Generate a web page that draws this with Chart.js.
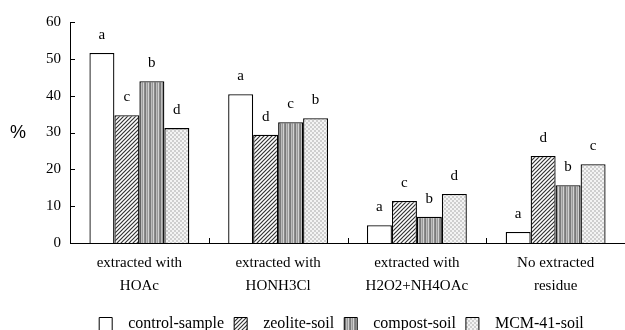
<!DOCTYPE html>
<html>
<head>
<meta charset="utf-8">
<script src="https://cdn.jsdelivr.net/npm/chart.js@4.4.1/dist/chart.umd.min.js"></script>
<style>
  body { margin: 0; background: #fff; }
  #wrap { width: 625px; height: 330px; }
</style>
</head>
<body>
<div id="wrap"><canvas id="myChart"></canvas></div>
<script>
var categories = [["extracted with", "HOAc"], ["extracted with", "HONH3Cl"], ["extracted with", "H2O2+NH4OAc"], ["No extracted", "residue"]];
var seriesNames = ["control-sample", "zeolite-soil", "compost-soil", "MCM-41-soil"];
var control = [51.6, 40.4, 4.8, 3.0];
var zeolite = [34.7, 29.4, 11.4, 23.6];
var compost = [43.9, 32.8, 7.1, 15.7];
var mcm = [31.2, 33.9, 13.3, 21.4];
var letters = [["a", "a", "a", "a"], ["c", "d", "c", "d"], ["b", "c", "b", "b"], ["d", "b", "d", "c"]];
var yTicks = [0, 10, 20, 30, 40, 50, 60];

var serif = "'Liberation Serif', 'Times New Roman', serif";

function makePattern(w, h, draw) {
  var c = document.createElement("canvas");
  c.width = w; c.height = h;
  var g = c.getContext("2d");
  draw(g);
  return document.getElementById("myChart").getContext("2d").createPattern(c, "repeat");
}

// diagonal hatch for zeolite-soil
var hatch = makePattern(4, 4, function(g) {
  g.fillStyle = "#fff"; g.fillRect(0, 0, 4, 4);
  g.strokeStyle = "#333"; g.lineWidth = 1.2;
  g.beginPath();
  g.moveTo(-1, 5); g.lineTo(5, -1);
  g.moveTo(-1, 1); g.lineTo(1, -1);
  g.moveTo(3, 5); g.lineTo(5, 3);
  g.stroke();
});

// vertical grey stripes for compost-soil
var stripes = makePattern(5, 4, function(g) {
  var cols = ["#7a7a7a", "#bdbdbd", "#9a9a9a", "#d2d2d2", "#8a8a8a"];
  for (var i = 0; i < cols.length; i++) { g.fillStyle = cols[i]; g.fillRect(i, 0, 1, 4); }
});

// fine dots for MCM-41-soil
var dots = makePattern(4, 4, function(g) {
  g.fillStyle = "#f4f4f4"; g.fillRect(0, 0, 4, 4);
  g.fillStyle = "#cfcfcf"; g.fillRect(0, 0, 2, 2); g.fillRect(2, 2, 2, 2);
});

var fills = ["#ffffff", hatch, stripes, dots];
var values = [control, zeolite, compost, mcm];

var marks = {
  id: "marks",
  afterLayout: function(chart) {
    // centre the legend under the plot rather than the whole canvas
    chart.legend.left = chart.chartArea.left - 12;
  },
  afterDatasetsDraw: function(chart) {
    var ctx = chart.ctx, x = chart.scales.x, y = chart.scales.y, area = chart.chartArea;
    ctx.save();
    ctx.strokeStyle = "#000";
    ctx.lineWidth = 1;
    ctx.beginPath();
    yTicks.forEach(function(v) {
      var py = Math.round(y.getPixelForValue(v)) + 0.5;
      ctx.moveTo(area.left, py); ctx.lineTo(area.left + 5, py);
    });
    for (var i = 1; i < categories.length; i++) {
      var px = Math.round((x.getPixelForValue(i - 1) + x.getPixelForValue(i)) / 2) + 0.5;
      ctx.moveTo(px, area.bottom); ctx.lineTo(px, area.bottom - 5);
    }
    ctx.stroke();
    ctx.fillStyle = "#000";
    ctx.font = "15px " + serif;
    ctx.textAlign = "center";
    ctx.textBaseline = "middle";
    chart.data.datasets.forEach(function(ds, di) {
      chart.getDatasetMeta(di).data.forEach(function(bar, i) {
        ctx.fillText(letters[di][i], bar.x, bar.y - 18);
      });
    });
    // axis title, kept horizontal
    ctx.font = "18px 'Liberation Sans', Arial, sans-serif";
    ctx.fillText("%", 18, (area.top + area.bottom) / 2 + 1);
    ctx.restore();
  }
};

var ctx = document.getElementById("myChart").getContext("2d");
var chart = new Chart(ctx, {
  type: "bar",
  data: {
    labels: categories,
    datasets: seriesNames.map(function(name, i) {
      return {
        label: name,
        data: values[i],
        backgroundColor: fills[i],
        borderColor: "#000",
        borderWidth: 1.3,
        categoryPercentage: 0.72,
        barPercentage: 1.0
      };
    })
  },
  options: {
    responsive: true,
    maintainAspectRatio: false,
    animation: false,
    layout: { padding: { top: 22, right: 0, left: 0, bottom: -12 } },
    plugins: {
      tooltip: { enabled: false },
      legend: {
        position: "bottom",
        labels: {
          color: "#000",
          font: { family: serif, size: 16 },
          boxWidth: 13,
          boxHeight: 13,
          padding: 10,
          generateLabels: function(chart) {
            var items = Chart.defaults.plugins.legend.labels.generateLabels(chart);
            items.forEach(function(it) { it.text = "  " + it.text; it.lineWidth = 1; });
            return items;
          }
        }
      }
    },
    scales: {
      x: {
        grid: { display: false, drawTicks: false },
        border: { color: "#000", width: 1 },
        ticks: { color: "#000", font: { family: serif, size: 15, lineHeight: 1.55 }, padding: 8, maxRotation: 0 },
        afterFit: function(s) { s.height = 63; }
      },
      y: {
        min: 0,
        max: 60,
        grid: { display: false, drawTicks: false },
        border: { color: "#000", width: 1 },
        ticks: { stepSize: 10, color: "#000", font: { family: serif, size: 15 }, padding: 9 },
        afterFit: function(s) { s.width = 70; }
      }
    }
  },
  plugins: [marks]
});
</script>
</body>
</html>
